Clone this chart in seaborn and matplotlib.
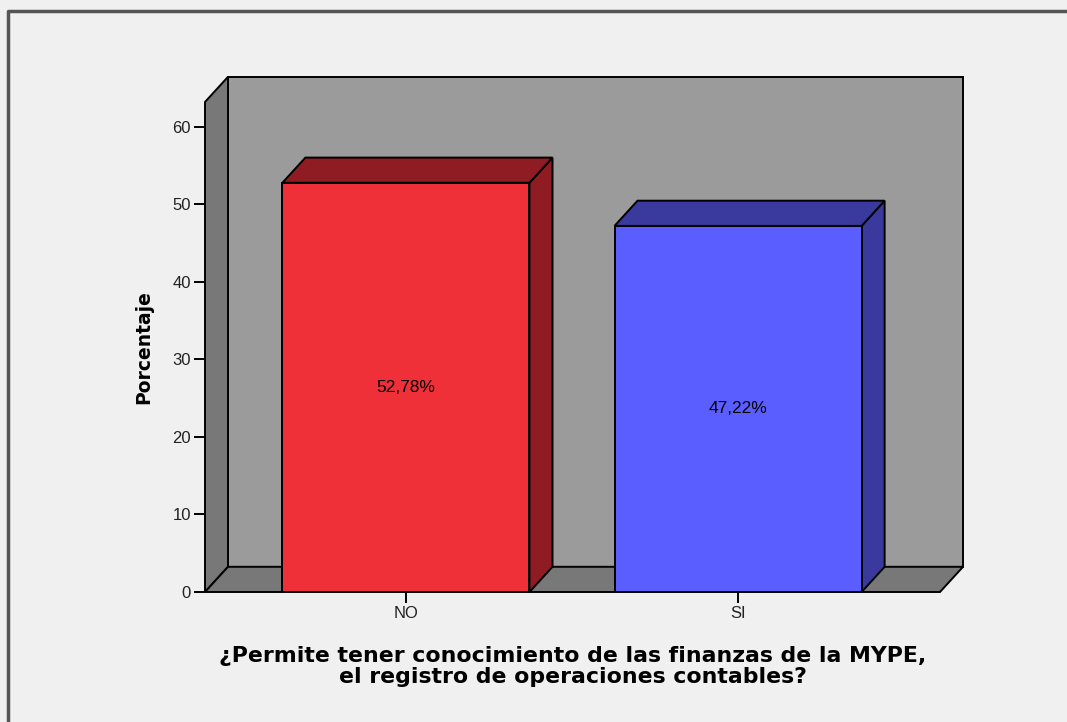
import matplotlib
matplotlib.use("Agg")
import matplotlib.pyplot as plt
from matplotlib.patches import Polygon
from matplotlib.lines import Line2D
import pandas as pd
import seaborn as sns

categories = ["NO", "SI"]
percentages = [52.78, 47.22]
bar_labels = ["52,78%", "47,22%"]
front_colors = ["#ef3038", "#5b5eff"]
side_colors = ["#8e1c22", "#3a3a9e"]
y_ticks = [0, 10, 20, 30, 40, 50, 60]

BG = "#f0f0f0"
WALL = "#9b9b9b"
WALL_DARK = "#787878"

sns.set_style("white")
plt.rcParams["font.family"] = ["Liberation Sans", "DejaVu Sans"]

df = pd.DataFrame({"cat": categories, "pct": percentages})

fig = plt.figure(figsize=(10.67, 7.22), dpi=100, facecolor=BG)
ax = fig.add_axes([205 / 1067, 130 / 722, 735 / 1067, 490 / 722])
ax.set_facecolor("none")

bw = 0.744
sns.barplot(data=df, x="cat", y="pct", hue="cat", palette=front_colors,
            width=bw, edgecolor="black", linewidth=1.4, saturation=1,
            legend=False, ax=ax, zorder=5)

x0, x1 = -0.605, 1.608
ymax = 63.2
dx, dy = 0.0693, 3.25
ax.set_xlim(x0, x1)
ax.set_ylim(0, ymax)

edge = dict(edgecolor="black", linewidth=1.4, clip_on=False)
# back wall, left wall, floor
ax.add_patch(Polygon([(x0 + dx, dy), (x1 + dx, dy), (x1 + dx, ymax + dy), (x0 + dx, ymax + dy)],
                     facecolor=WALL, zorder=1, **edge))
ax.add_patch(Polygon([(x0, 0), (x0 + dx, dy), (x0 + dx, ymax + dy), (x0, ymax)],
                     facecolor=WALL_DARK, zorder=2, **edge))
ax.add_patch(Polygon([(x0, 0), (x1, 0), (x1 + dx, dy), (x0 + dx, dy)],
                     facecolor=WALL_DARK, zorder=2, **edge))

# 3D sides and tops for each bar
for i, (h, sc) in enumerate(zip(percentages, side_colors)):
    xl, xr = i - bw / 2, i + bw / 2
    ax.add_patch(Polygon([(xr, 0), (xr + dx, dy), (xr + dx, h + dy), (xr, h)],
                         facecolor=sc, zorder=4, **edge))
    ax.add_patch(Polygon([(xl, h), (xr, h), (xr + dx, h + dy), (xl + dx, h + dy)],
                         facecolor=sc, zorder=4, **edge))
    ax.text(i, h / 2, bar_labels[i], ha="center", va="center", fontsize=12.5,
            color="black", zorder=6)

for s in ["top", "right", "left", "bottom"]:
    ax.spines[s].set_visible(False)

ax.set_yticks(y_ticks)
ax.set_yticklabels([str(t) for t in y_ticks], fontsize=12, color="#222222")
ax.tick_params(axis="y", direction="out", length=8, width=1.4, color="black", pad=2, left=True)
ax.tick_params(axis="x", direction="out", length=8, width=1.4, color="black", pad=2,
               labelsize=12, labelcolor="#222222", bottom=True)

ax.set_xlabel("¿Permite tener conocimiento de las finanzas de la MYPE,\nel registro de operaciones contables?",
              fontsize=15.8, fontweight="bold", family="DejaVu Sans", labelpad=18,
              linespacing=1.1, color="black")
ax.set_ylabel("Porcentaje", fontsize=13.5, fontweight="bold", family="DejaVu Sans", labelpad=14,
              color="black")

# outer frame (left and top edges)
fig.add_artist(Line2D([8 / 1067, 8 / 1067, 1.0], [0, 1 - 11 / 722, 1 - 11 / 722],
                      transform=fig.transFigure, color="#555555", linewidth=2.5))

fig.savefig("out.png", dpi=100, facecolor=BG)
